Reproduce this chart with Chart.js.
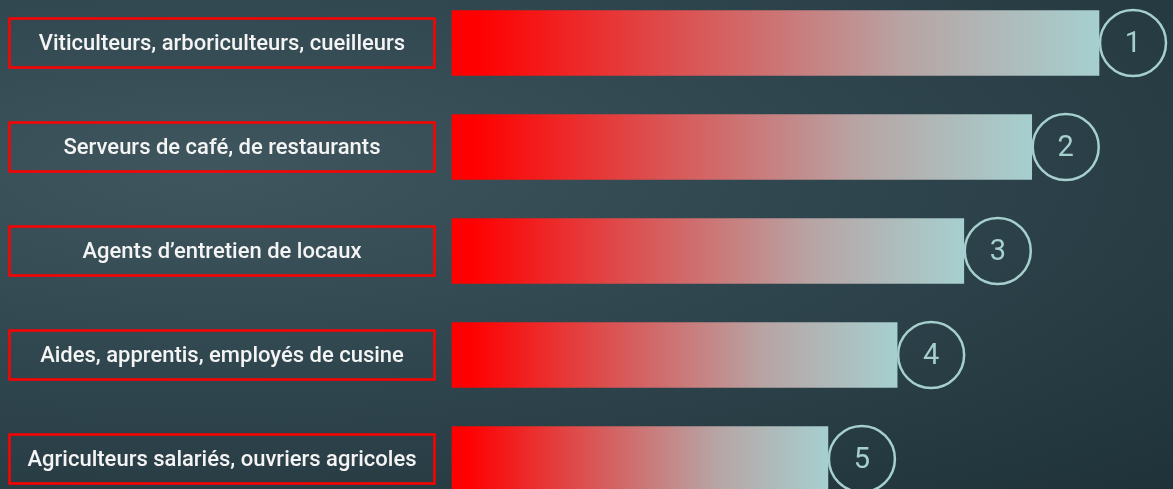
<!DOCTYPE html>
<html>
<head>
<meta charset="utf-8">
<script src="https://cdn.jsdelivr.net/npm/chart.js@4/dist/chart.umd.min.js"></script>
<style>
  html, body { margin: 0; padding: 0; }
  body {
    width: 1173px; height: 489px; overflow: hidden;
    background: radial-gradient(ellipse at 18% 35%, #3f565e 0%, #30464e 45%, #1f3239 100%);
  }
  #wrap { position: relative; width: 1173px; height: 489px; }
</style>
</head>
<body>
<div id="wrap"><canvas id="bars"></canvas></div>
<script>
"use strict"

// data
const categories = [
  'Viticulteurs, arboriculteurs, cueilleurs',
  'Serveurs de café, de restaurants',
  "Agents d’entretien de locaux",
  'Aides, apprentis, employés de cusine',
  'Agriculteurs salariés, ouvriers agricoles'
];
const values = [100, 89.6, 79.1, 68.8, 58.1];
const ranks = ['1', '2', '3', '4', '5'];

const TEAL = '#a6cfcf';

// gradient per bar, red on the left to pale teal at the bar end
function barGradient(context) {
  const chart = context.chart;
  const area = chart.chartArea;
  if (!area) return 'red';
  const x = chart.scales.x;
  const x0 = x.getPixelForValue(0);
  const x1 = x.getPixelForValue(values[context.dataIndex]);
  const g = chart.ctx.createLinearGradient(x0, 0, x1, 0);
  g.addColorStop(0, '#ff0000');
  g.addColorStop(0.04, '#ff0000');
  g.addColorStop(0.35, '#dc5050');
  g.addColorStop(0.7, '#b8a4a4');
  g.addColorStop(1, TEAL);
  return g;
}

// label boxes on the left and rank circles at bar ends
const decorations = {
  id: 'decorations',
  afterDatasetsDraw(chart) {
    const ctx = chart.ctx;
    const meta = chart.getDatasetMeta(0);
    ctx.save();
    meta.data.forEach((bar, i) => {
      const cy = bar.y;
      // box
      ctx.strokeStyle = '#ff0000';
      ctx.lineWidth = 2.5;
      ctx.strokeRect(9.5, cy - 24.5, 425, 49);
      ctx.fillStyle = '#f4f4f4';
      ctx.font = '500 22px Roboto, "Open Sans", sans-serif';
      ctx.textAlign = 'center';
      ctx.textBaseline = 'middle';
      ctx.fillText(categories[i], 222, cy + 1);
      // circle
      const cx = bar.x + 34;
      ctx.strokeStyle = TEAL;
      ctx.lineWidth = 2.5;
      ctx.beginPath();
      ctx.arc(cx, cy, 33, 0, Math.PI * 2);
      ctx.stroke();
      ctx.fillStyle = TEAL;
      ctx.font = '400 29px Roboto, "Open Sans", sans-serif';
      ctx.fillText(ranks[i], cx, cy + 2);
    });
    ctx.restore();
  }
};

const data = {
  labels: categories,
  datasets: [{
    data: values,
    backgroundColor: barGradient,
    borderWidth: 0,
    barThickness: 65,
    clip: false
  }]
};

const config = {
  type: 'bar',
  data,
  options: {
    indexAxis: 'y',
    responsive: false,
    animation: false,
    layout: { padding: { left: 452, right: 74, top: 43, bottom: 30 } },
    plugins: { legend: { display: false }, tooltip: { enabled: false } },
    scales: {
      x: { display: false, min: 0, max: 100 },
      y: { display: false, offset: false, grid: { offset: false } }
    }
  },
  plugins: [decorations]
};

const canvas = document.getElementById('bars');
canvas.width = 1173;
canvas.height = 489;
const barChart = new Chart(canvas, config);
</script>
</body>
</html>
